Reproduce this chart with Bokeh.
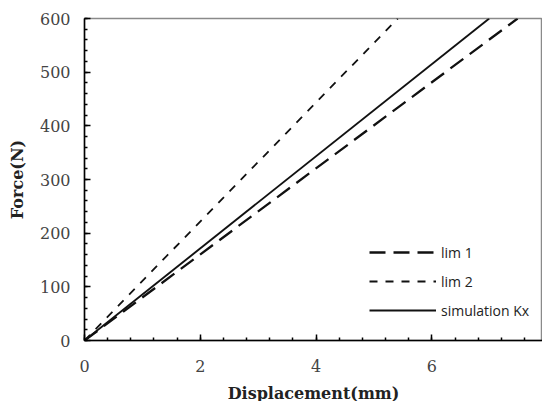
from bokeh.plotting import figure
from bokeh.models import SingleIntervalTicker, Legend, LegendItem, Range1d
from bokeh.embed import file_html
from bokeh.resources import INLINE

# Data
force = [0, 600]
disp_lim1 = [0, 7.48]
disp_lim2 = [0, 5.41]
disp_sim = [0, 6.99]
series_names = ["lim 1", "lim 2", "simulation Kx"]

p = figure(width=542, height=401, output_backend="svg", toolbar_location=None,
           x_range=Range1d(0, 7.91), y_range=Range1d(0, 600),
           min_border_left=84, min_border_right=0, min_border_top=18, min_border_bottom=60)
p.frame_width = 458
p.frame_height = 322
p.xgrid.visible = False
p.ygrid.visible = False
p.outline_line_color = "#8a8a8a"
p.outline_line_width = 1.5
p.background_fill_color = "white"
p.border_fill_color = "white"

r1 = p.line(disp_lim1, force, line_color="#111111", line_width=2.3, line_dash="16 8")
r2 = p.line(disp_lim2, force, line_color="#111111", line_width=1.8, line_dash="8 8")
r3 = p.line(disp_sim, force, line_color="#111111", line_width=1.9)

p.xaxis.ticker = SingleIntervalTicker(interval=2, num_minor_ticks=5)
p.yaxis.ticker = SingleIntervalTicker(interval=100, num_minor_ticks=5)

for ax in (p.xaxis[0], p.yaxis[0]):
    ax.axis_line_color = "black"
    ax.axis_line_width = 1.5
    ax.major_tick_in = 6
    ax.major_tick_out = 0
    ax.minor_tick_in = 3
    ax.minor_tick_out = 0
    ax.major_tick_line_color = "black"
    ax.minor_tick_line_color = "black"
    ax.major_tick_line_width = 1.5
    ax.minor_tick_line_width = 1.5
    ax.major_label_text_font = "DejaVu Serif"
    ax.major_label_text_font_size = "16px"
    ax.major_label_text_color = "#444444"
    ax.axis_label_text_font = "DejaVu Serif"
    ax.axis_label_text_font_style = "bold"
    ax.axis_label_text_font_size = "16px"
    ax.axis_label_text_color = "#222222"

p.xaxis.axis_label = "Displacement(mm)"
p.yaxis.axis_label = "Force(N)"
p.xaxis.major_label_standoff = 19
p.yaxis.major_label_standoff = 14
p.xaxis.axis_label_standoff = 9
p.yaxis.axis_label_standoff = 10

legend = Legend(items=[LegendItem(label=series_names[0], renderers=[r1]),
                       LegendItem(label=series_names[1], renderers=[r2]),
                       LegendItem(label=series_names[2], renderers=[r3])],
                location=(285, 16), padding=0, margin=0, spacing=1,
                glyph_width=67, glyph_height=28, label_height=28, label_standoff=5,
                label_text_font="Open Sans", label_text_font_size="14px",
                label_text_color="#222222",
                border_line_color=None, background_fill_alpha=0)
p.add_layout(legend, "center")

open("out.html", "w").write(file_html(p, INLINE))
